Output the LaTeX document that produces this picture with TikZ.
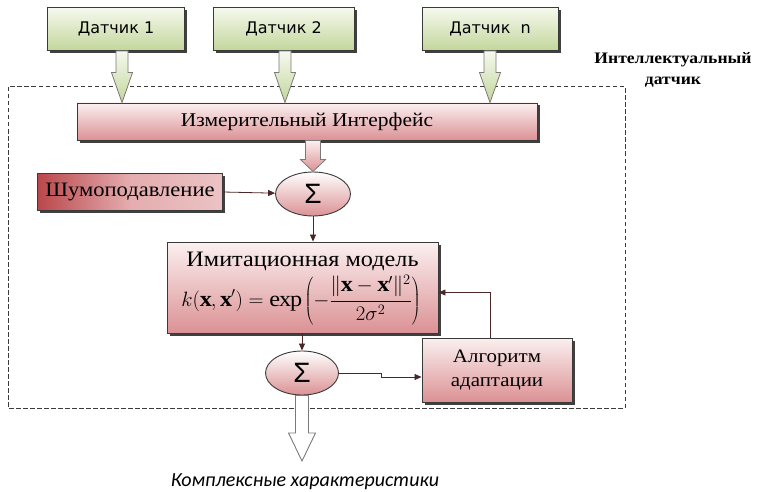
\documentclass[tikz,border=0pt]{standalone}
\usepackage{fontspec}
\setmainfont{Liberation Serif}[FakeStretch=1.1]
\setsansfont{DejaVu Sans}
\newfontfamily\calibrifont{Carlito}
\newfontfamily\sigmafont{Liberation Sans}
\usetikzlibrary{shapes.geometric,shadows,calc,arrows.meta}
\definecolor{frame}{HTML}{3A3A3A}
\definecolor{greenlo}{HTML}{C3D69B}
\definecolor{greenhi}{HTML}{F6F9EF}
\definecolor{pinklo}{HTML}{DB9194}
\definecolor{pinkhi}{HTML}{FBF0F0}
\definecolor{redlo}{HTML}{B9474B}
\definecolor{linec}{HTML}{4A2626}
\definecolor{arrgray}{HTML}{7A7A7A}
% fat block arrow: #1 start, #2 tip, #3 shaft half width, #4 head half width, #5 head length, #6 style
\newcommand\fatarrow[6]{%
  \path[#6] let \p1=#1, \p2=#2 in
    (\x1-#3,\y1) -- (\x1+#3,\y1) -- (\x1+#3,\y2+#5) -- (\x1+#4,\y2+#5) --
    (\x1,\y2) -- (\x1-#4,\y2+#5) -- (\x1-#3,\y2+#5) -- cycle;}
\begin{document}
\begin{tikzpicture}[x=1pt,y=-1pt,
  shadowed/.style={drop shadow={shadow xshift=2.5pt,shadow yshift=-2.5pt,fill=black!75,opacity=1}},
  sensor/.style={rectangle,draw=frame,line width=0.9pt,top color=greenhi,bottom color=greenlo,
    shadowed,inner sep=0pt,minimum height=43pt,font=\sffamily\fontsize{16}{19}\selectfont},
  redbox/.style={rectangle,draw=frame,line width=0.9pt,top color=pinkhi,bottom color=pinklo,
    shadowed,inner sep=0pt},
  sumnode/.style={ellipse,draw=frame,line width=0.9pt,top color=white,bottom color=pinklo,
    inner sep=0pt,minimum width=75pt,minimum height=44pt,font=\sigmafont\fontsize{28}{30}\selectfont},
  conn/.style={draw=linec,line width=0.8pt,-{Triangle[length=7pt,width=6pt]}},
  greenarrow/.style={draw=arrgray,line width=0.8pt,top color=greenhi,bottom color=greenlo},
  pinkarrow/.style={draw=arrgray,line width=0.8pt,top color=pinkhi,bottom color=pinklo},
  whitearrow/.style={draw=arrgray,line width=0.9pt,fill=white},
  dashedframe/.style={draw=frame,line width=1pt,dash pattern=on 4.5pt off 2.5pt}
]
\useasboundingbox (0,0) rectangle (757,492);

% dashed frame of the intelligent sensor
\coordinate (fr1) at (8,87);
\coordinate (fr2) at (625,408);
\path[dashedframe] (fr1) rectangle (fr2);
\node[font=\bfseries\fontsize{16}{21}\selectfont,align=center] (intl) at (673,70) {Интеллектуальный\\датчик};

% sensors
\node[sensor,minimum width=137pt] (d1) at (116,29) {Датчик 1};
\node[sensor,minimum width=141pt] (d2) at (283.5,29) {Датчик 2};
\node[sensor,minimum width=136pt] (dn) at (490,29) {Датчик\ \ n};

% measuring interface
\node[redbox,minimum width=460pt,minimum height=37pt,font=\fontsize{19.5}{22}\selectfont] (iface) at (307,121.5) {Измерительный Интерфейс};

% arrows from sensors
\coordinate (a1) at ($(d1.south)+(6,0)$);
\coordinate (a2) at ($(d2.south)+(1.5,0)$);
\coordinate (an) at (dn.south);
\fatarrow{(a1)}{(a1 |- iface.north)}{6pt}{10.5pt}{30pt}{greenarrow}
\fatarrow{(a2)}{(a2 |- iface.north)}{6pt}{10.5pt}{30pt}{greenarrow}
\fatarrow{(an)}{(an |- iface.north)}{6pt}{10.5pt}{30pt}{greenarrow}

% noise suppression and first sum
\node[redbox,minimum width=185pt,minimum height=37pt,left color=redlo,right color=pinklo!55!white,middle color=pinklo!75!white,font=\fontsize{20.5}{22}\selectfont] (noise) at (130,192) {Шумоподавление};
\node[sumnode] (sum1) at (313,194) {Σ};
\fatarrow{(sum1 |- iface.south)}{(sum1.north)}{7.5pt}{12.5pt}{12pt}{pinkarrow}
\draw[conn] (noise.east) -- (sum1);

% simulation model
\node[redbox,minimum width=271pt,minimum height=91pt] (model) at (302.5,287.5) {};
\node[inner sep=0pt,font=\fontsize{22}{24}\selectfont] (mtitle) at (302.5,261) {Имитационная модель};
\node[inner sep=0pt,font=\fontsize{22}{24}\selectfont] (mformula) at (301,300)
  {$\displaystyle k(\mathbf{x},\mathbf{x}')=\exp\left(-\frac{\|\mathbf{x}-\mathbf{x}'\|^{2}}{2\sigma^{2}}\right)$};
\draw[conn] (sum1.south) -- (sum1 |- model.north);

% second sum and adaptation
\node[sumnode,minimum width=73pt] (sum2) at (302,373) {Σ};
\node[redbox,minimum width=150pt,minimum height=64pt,align=center,font=\fontsize{19}{24}\selectfont] (alg) at (497,370) {Алгоритм\\адаптации};
\draw[conn] (model.south -| sum2) -- (sum2.north);
\draw[conn] (sum2.east) -- ++(42,0) |- ([yshift=-7pt]alg.west);
\draw[conn] ([xshift=-7pt]alg.north) |- ([yshift=-5pt]model.east);

% output
\coordinate (out) at (302,461);
\fatarrow{(sum2.south)}{(out)}{6.5pt}{13.5pt}{28pt}{whitearrow}
\node[font=\calibrifont\itshape\fontsize{20}{22}\selectfont] (outlbl) at (305,482) {Комплексные характеристики};
\end{tikzpicture}
\end{document}
